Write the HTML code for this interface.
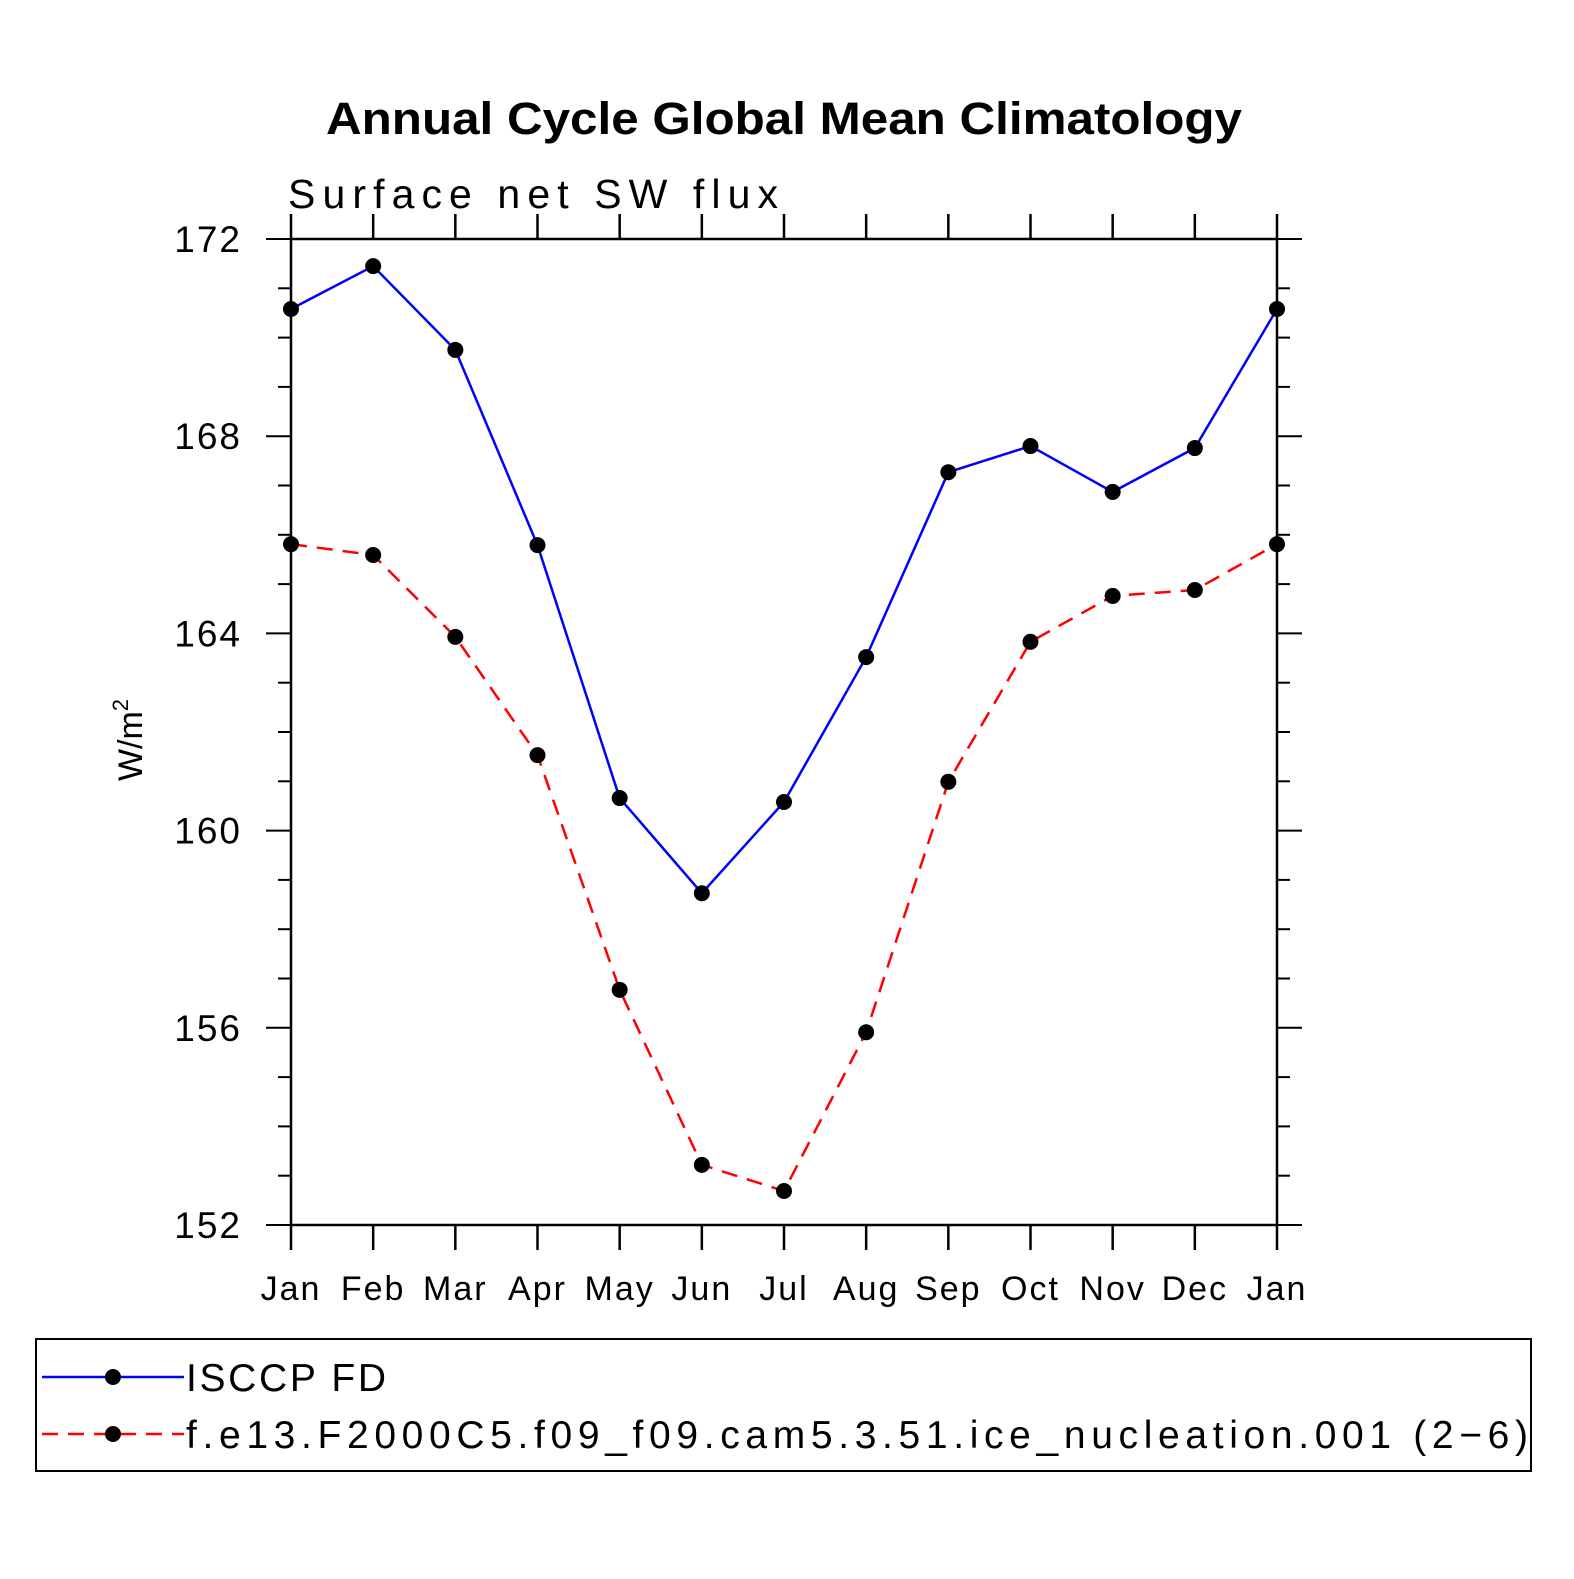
<!DOCTYPE html>
<html><head><meta charset="utf-8"><style>
html,body{margin:0;padding:0;background:#fff;}
svg text{font-family:"Liberation Sans",sans-serif;}
</style></head><body>
<svg id="chart" width="1574" height="1574" viewBox="0 0 1574 1574" xmlns="http://www.w3.org/2000/svg">
<text x="326" y="134" font-size="45" font-weight="bold" textLength="916" lengthAdjust="spacingAndGlyphs">Annual Cycle Global Mean Climatology</text>
<text x="288" y="208" font-size="41" textLength="490" lengthAdjust="spacing">Surface  net  SW  flux</text>
<text transform="translate(142,740) rotate(-90)" text-anchor="middle" font-size="34">W/m<tspan dy="-14" font-size="22">2</tspan></text>
<g id="axes"></g>
<g id="series"></g>
<rect x="36" y="1339" width="1495" height="132" fill="none" stroke="#000" stroke-width="2"/>
<line x1="42" y1="1377" x2="184" y2="1377" stroke="#00f" stroke-width="2.5"/>
<circle cx="113" cy="1377" r="8" fill="#000"/>
<text x="186" y="1391" font-size="39" textLength="200" lengthAdjust="spacing">ISCCP FD</text>
<line x1="42" y1="1434" x2="184" y2="1434" stroke="#f00" stroke-width="2.5" stroke-dasharray="16,10"/>
<circle cx="113" cy="1434" r="8" fill="#000"/>
<text x="186" y="1448" font-size="39" textLength="1342" lengthAdjust="spacing">f.e13.F2000C5.f09_f09.cam5.3.51.ice_nucleation.001 (2−6)</text>
</svg>
<script>
const months = ["Jan","Feb","Mar","Apr","May","Jun","Jul","Aug","Sep","Oct","Nov","Dec","Jan"];
const isccpValues = [170.58,171.45,169.75,165.79,160.66,158.73,160.58,163.52,167.27,167.80,166.87,167.76,170.58];
const modelValues = [165.81,165.59,163.93,161.53,156.77,153.22,152.69,155.91,160.99,163.83,164.76,164.88,165.81];
const yTicks = [152,156,160,164,168,172];

const NS = "http://www.w3.org/2000/svg";
const X0 = 291, X1 = 1277, Y0 = 1225, Y1 = 239, YMIN = 152, YMAX = 172;
const xs = i => X0 + (X1 - X0) * i / (months.length - 1);
const ys = v => Y0 - (v - YMIN) / (YMAX - YMIN) * (Y0 - Y1);
function mk(tag, attrs, parent) {
  const e = document.createElementNS(NS, tag);
  for (const k in attrs) e.setAttribute(k, attrs[k]);
  parent.appendChild(e);
  return e;
}
const axes = document.getElementById('axes');
const frame = mk('rect', {x: X0, y: Y1, width: X1 - X0, height: Y0 - Y1, fill: 'none', stroke: '#000', 'stroke-width': 2.5}, axes);


months.forEach((m, i) => {
  const x = xs(i);
  mk('line', {x1: x, y1: Y0, x2: x, y2: Y0 + 25, stroke: '#000', 'stroke-width': 2.5}, axes);
  mk('line', {x1: x, y1: Y1, x2: x, y2: Y1 - 25, stroke: '#000', 'stroke-width': 2.5}, axes);
  const t = mk('text', {x: x, y: 1300, 'text-anchor': 'middle', 'font-size': 34, 'letter-spacing': 2}, axes);
  t.textContent = m;
  
  
});
for (let v = YMIN; v <= YMAX; v++) {
  const y = ys(v);
  const major = (v - YMIN) % 4 === 0;
  const len = major ? 25 : 13;
  mk('line', {x1: X0 - len, y1: y, x2: X0, y2: y, stroke: '#000', 'stroke-width': 2}, axes);
  mk('line', {x1: X1, y1: y, x2: X1 + len, y2: y, stroke: '#000', 'stroke-width': 2}, axes);
}
yTicks.forEach(v => {
  const t = mk('text', {x: 242, y: ys(v) + 13, 'text-anchor': 'end', 'font-size': 37, 'letter-spacing': 2}, axes);
  t.textContent = v;
  
  
});
const series = document.getElementById('series');
function drawSeries(vals, color, dash, name) {
  const pts = vals.map((v, i) => xs(i) + ',' + ys(v)).join(' ');
  const pl = mk('polyline', {points: pts, fill: 'none', stroke: color, 'stroke-width': 2.5, 'stroke-dasharray': dash}, series);
  
  
  vals.forEach((v, i) => {
    const c = mk('circle', {cx: xs(i), cy: ys(v), r: 8, fill: '#000'}, series);
    
    
  });
}
drawSeries(isccpValues, '#00f', 'none', 'isccp');
drawSeries(modelValues, '#f00', '16,10', 'model');
</script>
</body></html>
